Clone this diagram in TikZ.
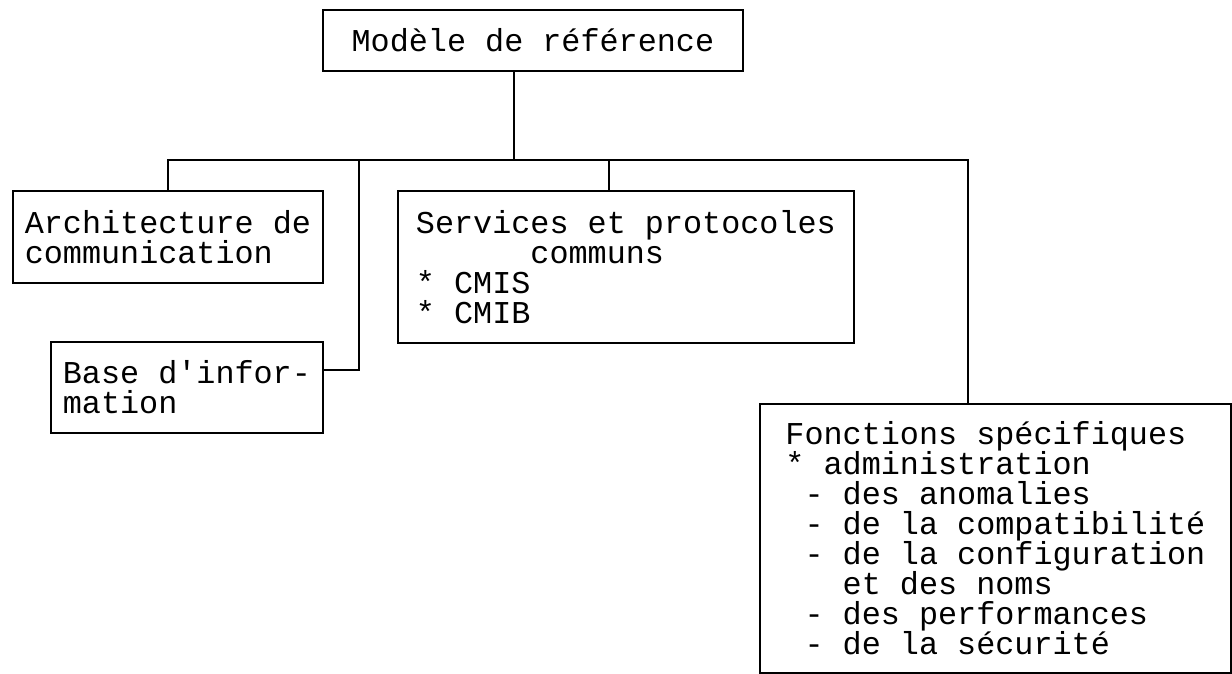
\documentclass[tikz,border=0pt]{standalone}
\usepackage{fontspec}
\setmonofont{Liberation Mono}
\usepackage{tikz}
\usetikzlibrary{positioning, calc}

\begin{document}
\begin{tikzpicture}[
  x=0.5pt, y=-0.5pt,
  every node/.style={font=\ttfamily\fontsize{15.9}{15}\selectfont, align=left, anchor=north west, inner sep=0pt},
  box/.style={draw, line width=0.9pt},
  link/.style={line width=0.9pt}
]
  \useasboundingbox (0,0) rectangle (1232,674);

  % Boxes (top-left corner in pixels)
  \node[box, minimum width=210pt, minimum height=30.5pt] (ref) at (322,9) {Modèle de référence};
  \node[box, minimum width=155pt, minimum height=46pt] (arch) at (12,190) {Architecture de\\communication};
  \node[box, minimum width=136pt, minimum height=45.5pt] (base) at (50,341) {Base d'infor-\\mation};
  \node[box, minimum width=228pt, minimum height=76pt] (serv) at (397,190)
    {Services et protocoles\\\hspace*{3.6em}communs\\* CMIS\\* CMIB};
  \node[box, minimum width=235.5pt, minimum height=134.5pt] (fonc) at (759,403)
    {Fonctions spécifiques\\* administration\\\hspace*{0.6em}- des anomalies\\\hspace*{0.6em}- de la compatibilité\\\hspace*{0.6em}- de la configuration\\\hspace*{1.8em}et des noms\\\hspace*{0.6em}- des performances\\\hspace*{0.6em}- de la sécurité};

  % Junctions on the bus
  \coordinate (tref) at (514,160);
  \coordinate (tbase) at (359,160);
  \coordinate (kbase) at (359,370);
  \coordinate (tserv) at (609,160);
  \coordinate (tfonc) at (968,160);

  \draw[link] (tref |- ref.south) -- (tref);
  \draw[link] (arch.north) -- (arch.north |- tref) -- (tfonc) -- (tfonc |- fonc.north);
  \draw[link] (tserv) -- (tserv |- serv.north);
  \draw[link] (tbase) -- (kbase) -- (kbase -| base.east);

\end{tikzpicture}
\end{document}
